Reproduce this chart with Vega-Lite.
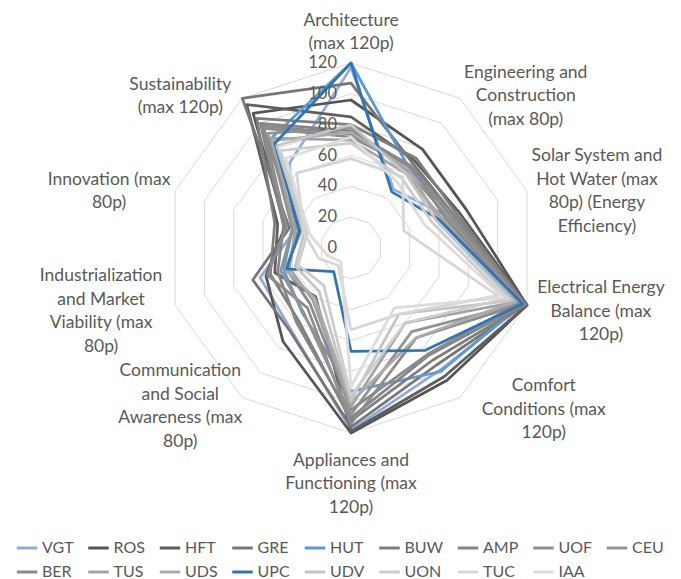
{
  "$schema": "https://vega.github.io/schema/vega-lite/v6.json",
  "width": 681,
  "height": 579,
  "autosize": "none",
  "padding": 0,
  "background": "white",
  "view": {"stroke": null},
  "config": {"font": "Lato"},
  "datasets": {
    "scores": [
      {"team": "VGT", "Architecture": 117, "Engineering": 47, "Solar": 66, "Electrical": 118, "Comfort": 98, "Appliances": 118, "Communication": 66, "Industrialization": 62, "Innovation": 38, "Sustainability": 68},
      {"team": "ROS", "Architecture": 96, "Engineering": 79, "Solar": 79, "Electrical": 120, "Comfort": 106, "Appliances": 120, "Communication": 75, "Industrialization": 58, "Innovation": 45, "Sustainability": 108},
      {"team": "HFT", "Architecture": 85, "Engineering": 70, "Solar": 74, "Electrical": 120, "Comfort": 103, "Appliances": 119, "Communication": 39, "Industrialization": 52, "Innovation": 50, "Sustainability": 115},
      {"team": "GRE", "Architecture": 107, "Engineering": 68, "Solar": 70, "Electrical": 119, "Comfort": 94, "Appliances": 116, "Communication": 67, "Industrialization": 67, "Innovation": 42, "Sustainability": 120},
      {"team": "HUT", "Architecture": 120, "Engineering": 64, "Solar": 68, "Electrical": 117, "Comfort": 99, "Appliances": 93, "Communication": 53, "Industrialization": 46, "Innovation": 40, "Sustainability": 88},
      {"team": "BUW", "Architecture": 80, "Engineering": 72, "Solar": 72, "Electrical": 119, "Comfort": 90, "Appliances": 112, "Communication": 58, "Industrialization": 55, "Innovation": 52, "Sustainability": 104},
      {"team": "AMP", "Architecture": 76, "Engineering": 66, "Solar": 70, "Electrical": 118, "Comfort": 86, "Appliances": 110, "Communication": 60, "Industrialization": 50, "Innovation": 46, "Sustainability": 100},
      {"team": "UOF", "Architecture": 72, "Engineering": 65, "Solar": 68, "Electrical": 117, "Comfort": 72, "Appliances": 114, "Communication": 48, "Industrialization": 57, "Innovation": 44, "Sustainability": 96},
      {"team": "CEU", "Architecture": 78, "Engineering": 62, "Solar": 66, "Electrical": 116, "Comfort": 67, "Appliances": 108, "Communication": 52, "Industrialization": 48, "Innovation": 40, "Sustainability": 92},
      {"team": "BER", "Architecture": 74, "Engineering": 66, "Solar": 64, "Electrical": 115, "Comfort": 85, "Appliances": 105, "Communication": 45, "Industrialization": 44, "Innovation": 36, "Sustainability": 98},
      {"team": "TUS", "Architecture": 70, "Engineering": 60, "Solar": 62, "Electrical": 113, "Comfort": 60, "Appliances": 103, "Communication": 42, "Industrialization": 42, "Innovation": 38, "Sustainability": 88},
      {"team": "UDS", "Architecture": 75, "Engineering": 63, "Solar": 60, "Electrical": 112, "Comfort": 72, "Appliances": 100, "Communication": 40, "Industrialization": 45, "Innovation": 34, "Sustainability": 86},
      {"team": "UPC", "Architecture": 120, "Engineering": 45, "Solar": 60, "Electrical": 117, "Comfort": 82, "Appliances": 67, "Communication": 19, "Industrialization": 44, "Innovation": 35, "Sustainability": 84},
      {"team": "UDV", "Architecture": 80, "Engineering": 60, "Solar": 58, "Electrical": 110, "Comfort": 53, "Appliances": 99, "Communication": 35, "Industrialization": 38, "Innovation": 32, "Sustainability": 82},
      {"team": "UON", "Architecture": 68, "Engineering": 56, "Solar": 55, "Electrical": 106, "Comfort": 60, "Appliances": 96, "Communication": 30, "Industrialization": 36, "Innovation": 30, "Sustainability": 78},
      {"team": "TUC", "Architecture": 58, "Engineering": 57, "Solar": 36, "Electrical": 100, "Comfort": 53, "Appliances": 53, "Communication": 14, "Industrialization": 22, "Innovation": 32, "Sustainability": 60},
      {"team": "IAA", "Architecture": 72, "Engineering": 52, "Solar": 50, "Electrical": 104, "Comfort": 48, "Appliances": 90, "Communication": 11, "Industrialization": 16, "Innovation": 28, "Sustainability": 72}
    ],
    "rings": [
      {"level": 20, "ks": [0,1,2,3,4,5,6,7,8,9]},
      {"level": 40, "ks": [0,1,2,3,4,5,6,7,8,9]},
      {"level": 60, "ks": [0,1,2,3,4,5,6,7,8,9]},
      {"level": 80, "ks": [0,1,2,3,4,5,6,7,8,9]},
      {"level": 100, "ks": [0,1,2,3,4,5,6,7,8,9]},
      {"level": 120, "ks": [0,1,2,3,4,5,6,7,8,9]}
    ],
    "ticks": [{"lev": 0}, {"lev": 20}, {"lev": 40}, {"lev": 60}, {"lev": 80}, {"lev": 100}, {"lev": 120}],
    "labels": [
      {"k": 0, "lines": ["Architecture", "(max 120p)"]},
      {"k": 1, "lines": ["Engineering and", "Construction", "(max 80p)"]},
      {"k": 2, "lines": ["Solar System and", "Hot Water (max", "80p) (Energy", "Efficiency)"]},
      {"k": 3, "lines": ["Electrical Energy", "Balance (max", "120p)"]},
      {"k": 4, "lines": ["Comfort", "Conditions (max", "120p)"]},
      {"k": 5, "lines": ["Appliances and", "Functioning (max", "120p)"]},
      {"k": 6, "lines": ["Communication", "and Social", "Awareness (max", "80p)"]},
      {"k": 7, "lines": ["Industrialization", "and Market", "Viability (max", "80p)"]},
      {"k": 8, "lines": ["Innovation (max", "80p)"]},
      {"k": 9, "lines": ["Sustainability", "(max 120p)"]}
    ]
  },
  "layer": [
    {
      "data": {"name": "rings"},
      "transform": [
        {"flatten": ["ks"], "as": ["k"]},
        {"calculate": "datum.level * 185 / 120 * sin(datum.k * PI / 5)", "as": "X"},
        {"calculate": "datum.level * 185 / 120 * cos(datum.k * PI / 5)", "as": "Y"}
      ],
      "mark": {"type": "line", "interpolate": "linear-closed", "stroke": "#d9d9d9", "strokeWidth": 1},
      "encoding": {
        "x": {"field": "X", "type": "quantitative", "scale": {"domain": [-351, 330]}, "axis": null},
        "y": {"field": "Y", "type": "quantitative", "scale": {"domain": [-331, 248]}, "axis": null},
        "detail": {"field": "level", "type": "nominal"},
        "order": {"field": "k", "type": "quantitative"}
      }
    },
    {
      "data": {"name": "scores"},
      "transform": [
        {"fold": ["Architecture", "Engineering", "Solar", "Electrical", "Comfort", "Appliances", "Communication", "Industrialization", "Innovation", "Sustainability"], "as": ["axis", "value"]},
        {"calculate": "indexof(['Architecture', 'Engineering', 'Solar', 'Electrical', 'Comfort', 'Appliances', 'Communication', 'Industrialization', 'Innovation', 'Sustainability'], datum.axis)", "as": "k"},
        {"calculate": "datum.value * 185 / 120 * sin(datum.k * PI / 5)", "as": "X"},
        {"calculate": "datum.value * 185 / 120 * cos(datum.k * PI / 5)", "as": "Y"}
      ],
      "mark": {"type": "line", "interpolate": "linear-closed", "strokeWidth": 2.75, "strokeJoin": "round"},
      "encoding": {
        "x": {"field": "X", "type": "quantitative", "scale": {"domain": [-351, 330]}, "axis": null},
        "y": {"field": "Y", "type": "quantitative", "scale": {"domain": [-331, 248]}, "axis": null},
        "order": {"field": "k", "type": "quantitative"},
        "color": {
          "field": "team", "type": "nominal",
          "scale": {
            "domain": ["VGT", "ROS", "HFT", "GRE", "HUT", "BUW", "AMP", "UOF", "CEU", "BER", "TUS", "UDS", "UPC", "UDV", "UON", "TUC", "IAA"],
            "range": ["#8FAADC", "#555555", "#5E5E5E", "#767676", "#5B9BD5", "#7E7E7E", "#858585", "#8C8C8C", "#939393", "#8A8A8A", "#A3A3A3", "#ABABAB", "#2E75B6", "#C4C4C4", "#CDCDCD", "#D6D6D6", "#DCDCDC"]
          },
          "legend": {
            "title": null,
            "orient": "none",
            "legendX": 15,
            "legendY": 536,
            "direction": "horizontal",
            "columns": 9,
            "columnPadding": 7.5,
            "rowPadding": 4,
            "symbolType": "stroke",
            "symbolSize": 420,
            "symbolStrokeWidth": 3,
            "labelFont": "Lato",
            "labelFontSize": 16,
            "labelColor": "#595959",
            "labelOffset": 3
          }
        }
      }
    },
    {
      "data": {"name": "ticks"},
      "transform": [
        {"calculate": "0", "as": "X"},
        {"calculate": "datum.lev * 185 / 120", "as": "Y"}
      ],
      "mark": {"type": "text", "align": "right", "baseline": "middle", "dx": -14, "fontSize": 16.5, "font": "Lato", "color": "#595959"},
      "encoding": {
        "x": {"field": "X", "type": "quantitative", "scale": {"domain": [-351, 330]}, "axis": null},
        "y": {"field": "Y", "type": "quantitative", "scale": {"domain": [-331, 248]}, "axis": null},
        "text": {"field": "lev", "type": "nominal"}
      }
    },
    {
      "data": {"name": "labels"},
      "transform": [
        {"calculate": "sin(datum.k * PI / 5)", "as": "s"},
        {"calculate": "cos(datum.k * PI / 5)", "as": "c"},
        {"calculate": "max(length(datum.lines[0]), length(datum.lines[1] || ''), length(datum.lines[2] || ''), length(datum.lines[3] || '')) * 4.0", "as": "hw"},
        {"calculate": "length(datum.lines) * 23.5 / 2", "as": "hh"},
        {"calculate": "abs(datum.s) < 0.01 ? 0 : 185 * datum.s + (datum.s > 0 ? 1 : -1) * (6 + datum.hw) + (datum.k == 4 ? 18 : 0)", "as": "X"},
        {"calculate": "(abs(datum.s) < 0.01 ? (datum.c > 0 ? 192 + datum.hh : -(201 + datum.hh)) : 190 * datum.c - 2 - (datum.c < 0 ? 3 : 0) - (datum.k == 4 ? 3 : 0)) + (length(datum.lines) - 1) * 11.75", "as": "Y"}
      ],
      "mark": {"type": "text", "align": "center", "baseline": "middle", "lineBreak": "\n", "lineHeight": 23.5, "fontSize": 17.5, "font": "Lato", "color": "#595959"},
      "encoding": {
        "x": {"field": "X", "type": "quantitative", "scale": {"domain": [-351, 330]}, "axis": null},
        "y": {"field": "Y", "type": "quantitative", "scale": {"domain": [-331, 248]}, "axis": null},
        "text": {"field": "lines", "type": "nominal"}
      }
    }
  ]
}
